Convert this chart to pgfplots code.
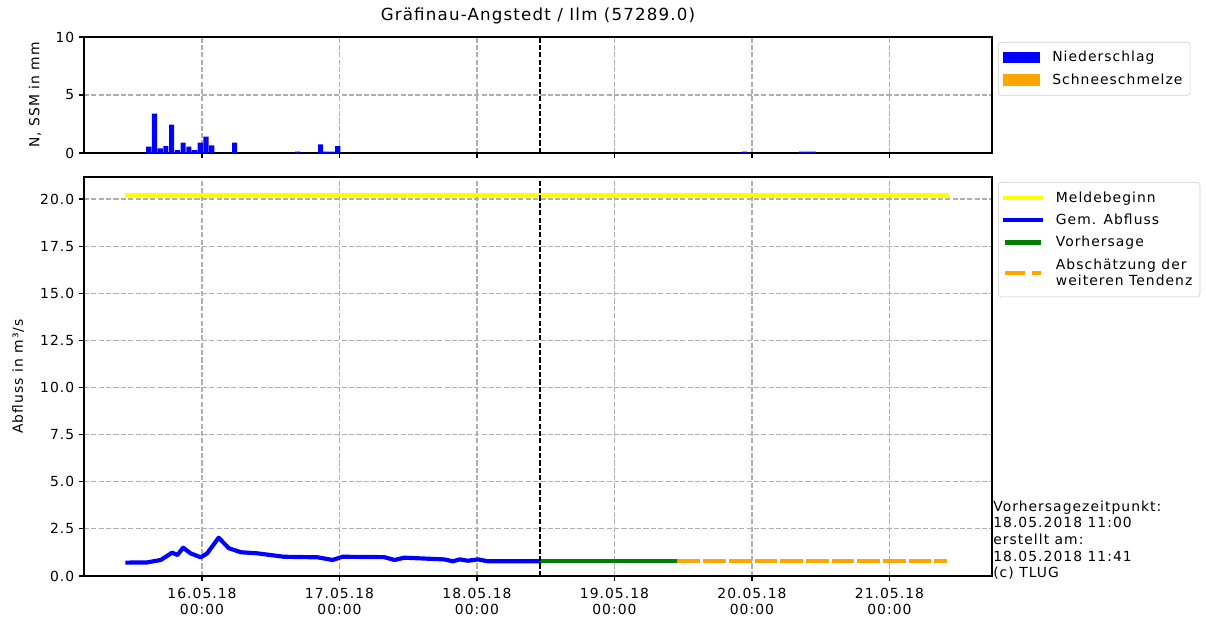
\documentclass[border=0pt]{standalone}
\usepackage{fontspec}
\setmainfont{DejaVu Sans}[LetterSpace=7.5]
\newfontfamily\titlefont{DejaVu Sans}[LetterSpace=7]
\usepackage{pgfplots}
\pgfplotsset{compat=1.18}
\definecolor{mplgrid}{RGB}{176,176,176}
\definecolor{mplgreen}{RGB}{0,128,0}
\definecolor{mplorange}{RGB}{255,165,0}
\definecolor{mplyellow}{RGB}{255,255,0}
\definecolor{mplblue}{RGB}{0,0,255}
\definecolor{legedge}{RGB}{204,204,204}
\pgfplotsset{
  mpl/.style={
    scale only axis, width=653.76pt,
    xmin=-20.6, xmax=137.9,
    xtick={0,24,48,72,96,120},
    tick pos=left, tick align=outside,
    major tick length=3.5pt,
    axis line style={line width=0.8pt},
    every tick/.style={line width=0.8pt, black},
    grid=major,
    major grid style={mplgrid, line width=0.8pt, dash pattern=on 3.7pt off 1.6pt},
    tick label style={font=\fontsize{10}{12}\selectfont},
    label style={font=\fontsize{10}{12}\selectfont},
    /pgf/number format/assume math mode=true,
    legend style={draw=legedge, rounded corners=2pt, font=\fontsize{10}{12}\selectfont,
      cells={anchor=west, align=left}, inner xsep=3.5pt, inner ysep=4.5pt, row sep=3pt, column sep=7pt},
    legend image code/.code={\draw[sharp corners, #1] (0pt,0pt) -- (26pt,0pt);},
  }
}
\begin{document}
\begin{tikzpicture}
\useasboundingbox (0,0) rectangle (868.32pt,448.56pt);
% top axis: precipitation
\begin{axis}[mpl, at={(60.48pt,338.4pt)}, anchor=south west, height=83.52pt,
  ymin=0, ymax=10, ytick={0,5,10}, xticklabels={},
  ylabel={N, SSM in mm},
  ylabel style={at={(axis description cs:-0.042,0.5)}, anchor=south},
  title={\titlefont Gräfinau-Angstedt / Ilm (57289.0)},
  title style={at={(axis description cs:0.5,1)}, anchor=base, yshift=6pt, font=\fontsize{12}{14}\selectfont},
  legend style={at={(1.0066,0.957)}, anchor=north west},
  ]
\addplot[ybar, bar width=0.9, fill=mplblue, draw=none,
  legend image code/.code={\fill[mplblue, sharp corners] (0pt,-3.8pt) rectangle (26pt,3.8pt);}]
  coordinates {(-9.3,0.55) (-8.3,3.4) (-7.3,0.4) (-6.3,0.6) (-5.3,2.45) (-4.3,0.25)
  (-3.3,0.9) (-2.3,0.55) (-1.3,0.25) (-0.3,0.9) (0.7,1.4) (1.7,0.65) (5.7,0.9)
  (16.7,0.12) (20.7,0.75) (21.7,0.12) (22.7,0.12) (23.7,0.6)
  (94.7,0.12) (104.7,0.12) (105.7,0.12) (106.7,0.12)};
\addlegendentry{Niederschlag}
\addlegendimage{legend image code/.code={\fill[mplorange, sharp corners] (0pt,-3.8pt) rectangle (26pt,3.8pt);}}
\addlegendentry{Schneeschmelze}
\addplot[black, line width=1pt, dash pattern=on 3.7pt off 1.6pt, forget plot]
  coordinates {(59,0) (59,10)};
\end{axis}
% bottom axis: discharge
\begin{axis}[mpl, at={(60.48pt,33.84pt)}, anchor=south west, height=287.28pt,
  ymin=0, ymax=21.17, ytick={0,2.5,5,7.5,10,12.5,15,17.5,20},
  yticklabel style={/pgf/number format/.cd, fixed, fixed zerofill, precision=1},
  xticklabels={{16.05.18\\00:00},{17.05.18\\00:00},{18.05.18\\00:00},{19.05.18\\00:00},{20.05.18\\00:00},{21.05.18\\00:00}},
  xticklabel style={align=center, font=\fontsize{10}{12}\selectfont, yshift=-1.5pt},
  ylabel={Abfluss in m³/s},
  ylabel style={at={(axis description cs:-0.0606,0.5)}, anchor=south},
  legend style={at={(1.0066,0.987)}, anchor=north west},
  ]
\addplot[mplyellow, line width=3pt, line cap=rect] coordinates {(-13,20.2) (130,20.2)};
\addlegendentry{Meldebeginn}
\addplot[mplblue, line width=3pt, line cap=rect, line join=round] coordinates {
  (-13,0.71) (-9.6,0.72) (-7.2,0.85) (-5.2,1.24) (-4.3,1.11) (-3.3,1.5) (-2.0,1.2)
  (-0.2,0.99) (0.9,1.2) (2.9,2.03) (4.7,1.47) (6.8,1.26) (9.7,1.2) (12,1.11) (14.3,1.02)
  (20.2,0.99) (22.8,0.85) (24.5,1.02) (31.8,1.0) (33.6,0.85) (35.3,0.97) (37.7,0.94)
  (42.3,0.88) (43.8,0.78) (45,0.88) (46.4,0.81) (48.2,0.88) (49.9,0.78) (59,0.78)};
\addlegendentry{Gem. Abfluss}
\addplot[mplgreen, line width=3pt] coordinates {(59,0.78) (83,0.78)};
\addlegendentry{Vorhersage}
\addplot[mplorange, line width=3pt, dash pattern=on 16.3pt off 2.2pt,
  legend image code/.code={\draw[mplorange, line width=3pt, dash pattern=on 14.4pt off 4.8pt on 6.8pt off 10pt] (0pt,0pt) -- (26pt,0pt);}]
  coordinates {(83,0.78) (130,0.78)};
\addlegendentry{Abschätzung der\\weiteren Tendenz}
\addplot[black, line width=1pt, dash pattern=on 3.7pt off 1.6pt, forget plot]
  coordinates {(59,0) (59,21.17)};
\end{axis}
\node[anchor=south west, inner sep=0pt, align=left, font=\fontsize{10}{12}\selectfont]
  at (714.96pt,30.96pt) {Vorhersagezeitpunkt:\\18.05.2018 11:00\\erstellt am:\\18.05.2018 11:41\\(c) TLUG};
\end{tikzpicture}
\end{document}
